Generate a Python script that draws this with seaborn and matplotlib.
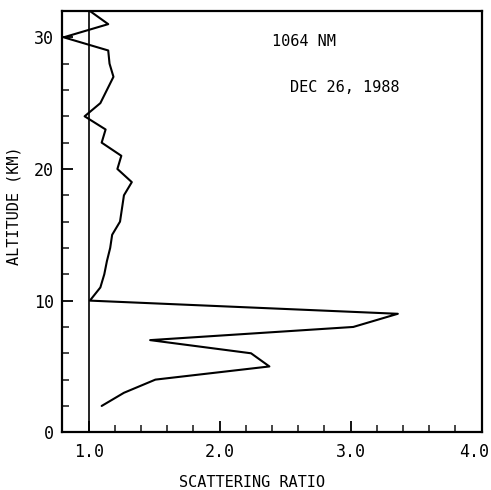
import matplotlib
matplotlib.use("Agg")
import matplotlib.pyplot as plt
import matplotlib.transforms as mtransforms
from matplotlib.ticker import MultipleLocator, FixedLocator
import seaborn as sns
import pandas as pd

altitude_km = [2, 3, 4, 5, 6, 7, 8, 9, 10, 11, 12, 13, 14, 15, 16, 17, 18, 19, 20,
               21, 22, 23, 24, 25, 26, 27, 28, 29, 30, 31, 32]
scattering_ratio = [1.10, 1.27, 1.51, 2.38, 2.24, 1.47, 3.02, 3.36, 1.01, 1.09, 1.12,
                    1.14, 1.165, 1.18, 1.24, 1.255, 1.27, 1.33, 1.22, 1.25, 1.10, 1.13,
                    0.97, 1.09, 1.14, 1.19, 1.16, 1.15, 0.81, 1.15, 1.01]
reference_ratio = [1.0, 1.0]
reference_alt = [0, 32]

x_ticks = [1.0, 2.0, 3.0, 4.0]
x_tick_labels = ["1.0", "2.0", "3.0", "4.0"]
y_ticks = [0, 10, 20, 30]
y_tick_labels = ["0", "10", "20", "30"]

sns.set_style("ticks")
plt.rcParams["font.family"] = ["DejaVu Sans Mono", "DejaVu Sans"]

df = pd.DataFrame({"ratio": scattering_ratio, "alt": altitude_km})

fig = plt.figure(figsize=(4.91, 4.90), dpi=100)
ax = fig.add_axes([0.127, 0.1178, 0.854, 0.8598])

sns.lineplot(data=df, x="ratio", y="alt", sort=False, estimator=None,
             color="black", linewidth=1.5, ax=ax)
ax.plot(reference_ratio, reference_alt, color="black", linewidth=1.2)

ax.set_xlim(0.8, 4.0)
ax.set_ylim(0, 32)

ax.xaxis.set_major_locator(FixedLocator(x_ticks))
ax.set_xticklabels(x_tick_labels)
ax.xaxis.set_minor_locator(MultipleLocator(0.2))
ax.yaxis.set_major_locator(FixedLocator(y_ticks))
ax.set_yticklabels(y_tick_labels)
ax.yaxis.set_minor_locator(MultipleLocator(2))

ax.tick_params(axis="both", which="major", direction="in", length=8, width=1.3,
               labelsize=12, colors="black")
ax.tick_params(axis="x", which="major", pad=8)
ax.tick_params(axis="y", which="major", pad=6)
ax.tick_params(axis="both", which="minor", direction="in", length=5, width=1.2)

# keep the last x label inside the figure, as in the reference
last = ax.get_xticklabels()[-1]
last.set_horizontalalignment("right")
last.set_transform(last.get_transform() +
                   mtransforms.ScaledTranslation(7 / 100, 0, fig.dpi_scale_trans))

for s in ax.spines.values():
    s.set_visible(True)
    s.set_linewidth(1.6)
    s.set_color("black")

ax.set_xlabel("")
ax.set_ylabel("")
fig.text(252 / 491, 1 - 482 / 490, "SCATTERING RATIO", ha="center", va="center",
         fontsize=11, color="black")
fig.text(14 / 491, 1 - 206 / 490, "ALTITUDE (KM)", ha="center", va="center",
         rotation=90, fontsize=11, color="black")

ax.text(272 / 491, 1 - 42 / 490, "1064 NM", transform=fig.transFigure,
        ha="left", va="center", fontsize=11, color="black")
ax.text(290 / 491, 1 - 87 / 490, "DEC 26, 1988", transform=fig.transFigure,
        ha="left", va="center", fontsize=11, color="black")

fig.savefig("out.png", dpi=100)
